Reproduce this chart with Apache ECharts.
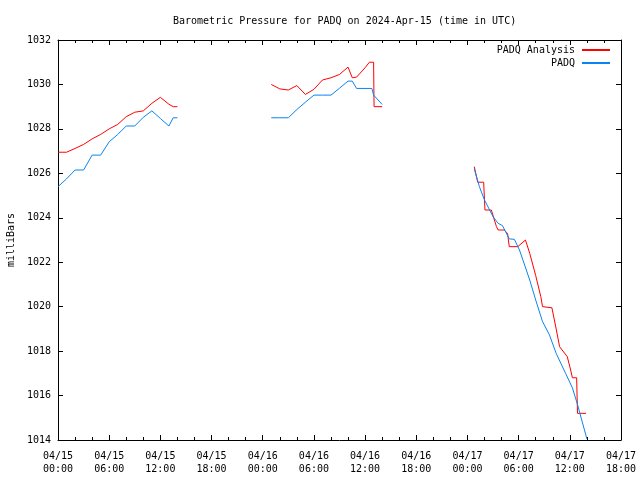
<!DOCTYPE html>
<html>
<head>
<meta charset="utf-8">
<script src="https://cdn.jsdelivr.net/npm/echarts@6/dist/echarts.min.js"></script>
<style>html,body{margin:0;padding:0;background:#fff}#c{width:640px;height:480px}</style>
</head>
<body>
<div id="c"></div>
<script>
// Hours since 2024-04-15 00:00 UTC; null marks a data gap
const analysisHours = [0,1,2,3,4,5,6,7,8,9,10,11,12,13,13.5,14,
  20,
  25,26,27,28,29,30,31,32,33,34,34.5,35,36,36.5,37,37.05,38,
  44,
  48.8,49.2,49.9,50.05,50.8,51.4,51.6,52.3,52.7,52.9,53.9,54.8,55.3,56,56.6,56.8,57.9,58.4,58.8,59.7,60.1,60.3,60.8,60.9,61.9];
const analysisValues = [1026.95,1026.95,1027.12,1027.3,1027.55,1027.75,1028.0,1028.2,1028.55,1028.75,1028.81,1029.15,1029.42,1029.11,1029.0,1029.0,
  null,
  1030.0,1029.8,1029.75,1029.95,1029.55,1029.78,1030.2,1030.3,1030.45,1030.78,1030.3,1030.33,1030.75,1031.0,1031.0,1029.0,1029.0,
  null,
  1026.3,1025.6,1025.6,1024.35,1024.35,1023.6,1023.45,1023.45,1023.3,1022.7,1022.7,1023.0,1022.4,1021.4,1020.45,1020.0,1019.95,1019.0,1018.2,1017.75,1017.15,1016.8,1016.8,1015.2,1015.2];

const padqHours = [0,1,2,3,4,5,6,7,8,9,10,11,12,13,13.5,14,
  20,
  25,26,27,28,29,30,31,32,33,34,34.5,35,36,36.8,37,38,
  44,
  48.8,49.4,50,51,51.6,52.1,52.9,53.5,54.1,55.3,56,56.8,57.6,58.4,59.5,60.3,60.9,62];
const padqValues = [1025.4,1025.75,1026.15,1026.15,1026.82,1026.82,1027.42,1027.75,1028.13,1028.13,1028.52,1028.81,1028.47,1028.13,1028.5,1028.5,
  null,
  1028.5,1028.5,1028.5,1028.87,1029.2,1029.52,1029.52,1029.52,1029.83,1030.15,1030.15,1029.82,1029.82,1029.82,1029.52,1029.1,
  null,
  1026.2,1025.4,1024.8,1024.05,1023.75,1023.65,1023.05,1023.03,1022.55,1021.2,1020.3,1019.33,1018.74,1017.9,1017.0,1016.35,1015.6,1014.05];

const xTickHours = [0,6,12,18,24,30,36,42,48,54,60,66];
const yTicks = [1014,1016,1018,1020,1022,1024,1026,1028,1030,1032];

function pairs(hs, vs){ return hs.map((h,i)=>[h, vs[i]===null ? '-' : vs[i]]); }
function pad(n){ return (n<10?'0':'')+n; }
function xLabel(h){
  const day = 15 + Math.floor(h/24);
  const hr = h % 24;
  return '04/' + pad(day) + '\n' + pad(hr) + ':00';
}

const FONT = 'DejaVu Sans Mono';
const black = {color:'#000', width:1};

const chart = echarts.init(document.getElementById('c'));
const baseX = {
  type:'value', min:xTickHours[0], max:xTickHours[xTickHours.length-1], interval:6,
  axisLine:{show:true, onZero:false, lineStyle:black},
  axisTick:{show:true, inside:true, length:5, lineStyle:black},
  minorTick:{show:true, splitNumber:3, length:3, lineStyle:black},
  splitLine:{show:false}
};
const baseY = {
  type:'value', min:yTicks[0], max:yTicks[yTicks.length-1], interval:2,
  axisLine:{show:true, onZero:false, lineStyle:black},
  axisTick:{show:true, inside:true, length:5, lineStyle:black},
  splitLine:{show:false}
};

chart.setOption({
  animation:false,
  backgroundColor:'#fff',
  title:{
    text:'Barometric Pressure for PADQ on 2024-Apr-15 (time in UTC)',
    left:168, top:11,
    textStyle:{fontFamily:FONT, fontSize:10, fontWeight:'normal', color:'#000'}
  },
  legend:[
    {data:['PADQ Analysis'], right:25, top:40, align:'right', itemWidth:28, itemHeight:2, itemGap:6,
     icon:'rect', textStyle:{fontFamily:FONT, fontSize:10, color:'#000', padding:[0,2,0,0]}},
    {data:['PADQ'], right:25, top:53, align:'right', itemWidth:28, itemHeight:2, itemGap:6,
     icon:'rect', textStyle:{fontFamily:FONT, fontSize:10, color:'#000', padding:[0,2,0,0]}}
  ],
  grid:{left:58, right:19, top:40, bottom:40, containLabel:false, outerBoundsMode:'none'},
  xAxis:[
    Object.assign({}, baseX, {position:'bottom',
      axisLabel:{show:true, formatter:xLabel, fontFamily:FONT, fontSize:10, color:'#000', lineHeight:13, margin:10}}),
    Object.assign({}, baseX, {position:'top', axisLabel:{show:false}})
  ],
  yAxis:[
    Object.assign({}, baseY, {position:'left',
      name:'milliBars', nameLocation:'middle', nameGap:41, nameRotate:90,
      nameTextStyle:{fontFamily:FONT, fontSize:10, color:'#000'},
      axisLabel:{show:true, formatter:function(v){return String(v);}, fontFamily:FONT, fontSize:10, color:'#000', margin:7}}),
    Object.assign({}, baseY, {position:'right', axisLabel:{show:false}})
  ],
  series:[
    {name:'PADQ Analysis', type:'line', xAxisIndex:0, yAxisIndex:0, data:pairs(analysisHours, analysisValues),
     showSymbol:false, symbol:'none', connectNulls:false, clip:true,
     lineStyle:{color:'#ff0000', width:1}, itemStyle:{color:'#ff0000'}},
    {name:'PADQ', type:'line', xAxisIndex:0, yAxisIndex:0, data:pairs(padqHours, padqValues),
     showSymbol:false, symbol:'none', connectNulls:false, clip:true,
     lineStyle:{color:'#0a84f0', width:1}, itemStyle:{color:'#0a84f0'}}
  ]
});
</script>
</body>
</html>
